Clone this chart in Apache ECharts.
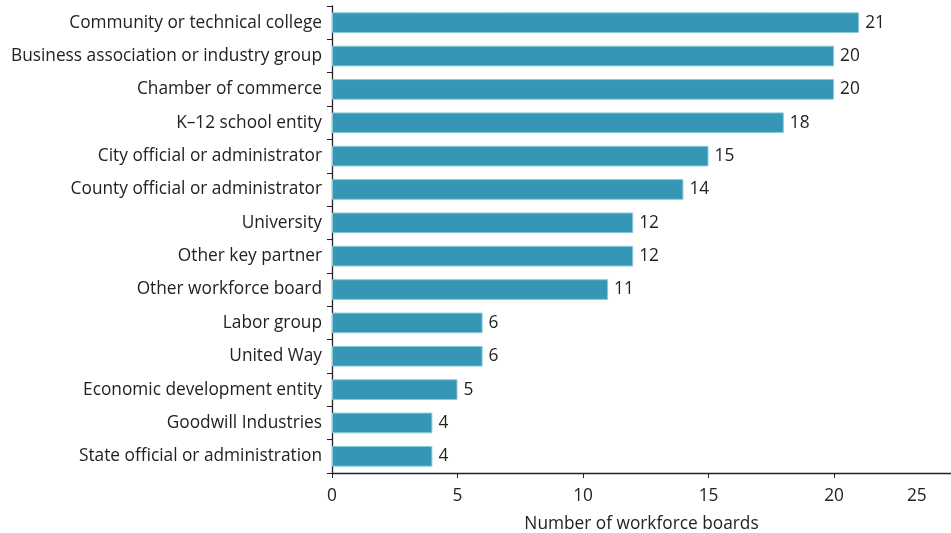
<!DOCTYPE html>
<html><head><meta charset="utf-8">
<script src="https://cdn.jsdelivr.net/npm/echarts@6/dist/echarts.min.js"></script>
<style>html,body{margin:0;padding:0;background:#fff}#c{width:951px;height:533px}</style>
</head><body><div id="c"></div>
<script>
const categories = ["Community or technical college","Business association or industry group","Chamber of commerce","K\u201312 school entity","City official or administrator","County official or administrator","University","Other key partner","Other workforce board","Labor group","United Way","Economic development entity","Goodwill Industries","State official or administration"];
const values = [21,20,20,18,15,14,12,12,11,6,6,5,4,4];
const xTickValues = [0,5,10,15,20];
const xTickLabels = ["0","5","10","15","20","25"];
const xLabelPositions = [0,5,10,15,20,23.3];

const chart = echarts.init(document.getElementById('c'));
const font = '"Open Sans", sans-serif';
chart.setOption({
  animation:false,
  grid:{left:332,right:0,top:6,bottom:60,containLabel:false,outerBoundsMode:'none'},
  xAxis:{type:'value',min:0,max:24.66,
    name:'Number of workforce boards',nameLocation:'middle',nameGap:43,
    nameTextStyle:{fontFamily:font,fontSize:17.3,color:'#222'},
    axisLine:{show:true,lineStyle:{color:'#222',width:1.3}},
    axisTick:{show:true,length:5,lineStyle:{color:'#222'},customValues:xTickValues},
    axisLabel:{fontFamily:font,fontSize:17.3,color:'#222',margin:15,customValues:xLabelPositions,
      formatter:v=>{const i=xLabelPositions.indexOf(v);return i>=0?xTickLabels[i]:'';}},
    splitLine:{show:false}},
  yAxis:{type:'category',data:categories,inverse:true,
    axisLine:{show:true,lineStyle:{color:'#222',width:1.3}},
    axisTick:{show:true,length:5,lineStyle:{color:'#222'}},
    axisLabel:{fontFamily:font,fontSize:17.3,color:'#222',margin:10,padding:[4,0,0,0]}},
  series:[{type:'bar',data:values,barCategoryGap:'38%',
    itemStyle:{color:'#3597b5',borderColor:'#8ccadb',borderWidth:1},
    label:{show:true,position:'right',distance:6,fontFamily:font,fontSize:17.3,color:'#222',padding:[3,0,0,0]}}]
});
</script></body></html>
